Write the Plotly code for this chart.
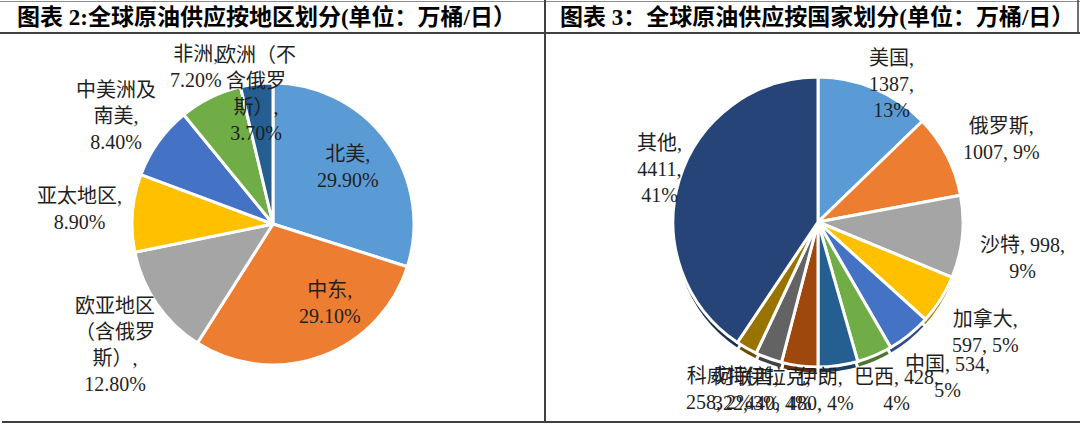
import math
import plotly.graph_objects as go

# ---------------- data ----------------
region_labels = ["北美", "中东", "欧亚地区（含俄罗斯）", "亚太地区", "中美洲及南美", "非洲", "欧洲（不含俄罗斯）"]
region_wrapped = ["北美", "中东", "欧亚地区<br>（含俄罗<br>斯）", "亚太地区", "中美洲及<br>南美", "非洲", "欧洲（不<br>含俄罗<br>斯）"]
region_values = [29.9, 29.1, 12.8, 8.9, 8.4, 7.2, 3.7]
region_colors = ["#5B9BD5", "#ED7D31", "#A5A5A5", "#FFC000", "#4472C4", "#70AD47", "#255E91"]

country_labels = ["美国", "俄罗斯", "沙特", "加拿大", "中国", "巴西", "伊朗", "伊拉克", "阿联酋", "科威特", "其他"]
country_values = [1387, 1007, 998, 597, 534, 428, 480, 440, 322, 258, 4411]
country_colors = ["#5B9BD5", "#ED7D31", "#A5A5A5", "#FFC000", "#4472C4", "#70AD47",
                  "#255E91", "#9E480E", "#636363", "#997300", "#264478"]

title_left = "图表 2:全球原油供应按地区划分(单位：万桶/日）"
title_right = "图表 3：全球原油供应按国家划分(单位：万桶/日）"

# ---------------- layout / style ----------------
W, H = 1080, 425
FONT = "Liberation Serif, Noto Sans CJK SC, serif"
TITLE_FONT = "Liberation Serif, Noto Sans CJK SC, serif"
LABEL_COLOR = "#1f1f1f"

L_C, L_R = (273, 224), 141        # left pie centre / radius (px)
R_C, R_R = (818, 222), 145        # right pie centre / radius (px)
DEPTH = 7                         # 3-D side thickness of the right pie (px)

# label placement: (radius factor, angle offset in degrees) per slice
region_lab_pos = [(0.67, -1), (0.69, -16), (1.41, -3), (1.38, 0), (1.35, -1), (1.24, 0), (0.93, -1)]
country_lab_pos = [(1.08, 5), (1.39, 3), (1.43, 4), (1.38, 1), (1.39, -1), (1.28, -2),
                   (1.16, 7), (1.19, 6), (1.26, 3), (1.34, 1), (1.15, 1.6)]
country_two_line_name = {"美国", "其他"}            # name / value / pct on three lines
country_name_first = {"俄罗斯", "加拿大", "伊朗", "伊拉克", "阿联酋", "科威特"}  # name / "value, pct"


def dom_x(cx, r):
    return [(cx - r) / W, (cx + r) / W]


def dom_y(cy, r):
    yb = H - cy
    return [(yb - r) / H, (yb + r) / H]


def darker(hexc, f=0.68):
    h = hexc.lstrip("#")
    r, g, b = (int(h[i:i + 2], 16) for i in (0, 2, 4))
    return "#%02x%02x%02x" % (int(r * f), int(g * f), int(b * f))


def mid_angles(values):
    tot = sum(values)
    out, cum = [], 0.0
    for v in values:
        out.append((cum + v / 2) / tot * 360.0)
        cum += v
    return out


def label_annots(texts, values, centre, radius, placement):
    anns = []
    for t, a, (f, off) in zip(texts, mid_angles(values), placement):
        th = math.radians(a + off)
        px = centre[0] + f * radius * math.sin(th)
        py = centre[1] - f * radius * math.cos(th)
        anns.append(dict(text=t, x=px / W, y=1 - py / H, xref="paper", yref="paper",
                         xanchor="center", yanchor="middle", align="center", showarrow=False,
                         font=dict(family=FONT, size=20, color=LABEL_COLOR)))
    return anns


# ---------------- texts ----------------
region_text = [f"{w},<br>{v:.2f}%" for w, v in zip(region_wrapped, region_values)]

total = sum(country_values)
country_text = []
for lab, v in zip(country_labels, country_values):
    p = round(v / total * 100)
    if lab in country_two_line_name:
        country_text.append(f"{lab},<br>{v},<br>{p}%")
    elif lab in country_name_first:
        country_text.append(f"{lab},<br>{v}, {p}%")
    else:
        country_text.append(f"{lab}, {v},<br>{p}%")

# ---------------- figure ----------------
fig = go.Figure()
fig.add_trace(go.Pie(
    labels=region_labels, values=region_values, sort=False, direction="clockwise",
    rotation=0, textinfo="none", automargin=False,
    marker=dict(colors=region_colors, line=dict(color="white", width=3)),
    domain=dict(x=dom_x(L_C[0], L_R), y=dom_y(L_C[1], L_R)),
    showlegend=False, hoverinfo="label+value",
))
# 3-D side of the right pie (darker copy shifted down)
fig.add_trace(go.Pie(
    labels=country_labels, values=country_values, sort=False, direction="clockwise",
    rotation=0, textinfo="none", automargin=False,
    marker=dict(colors=[darker(c) for c in country_colors], line=dict(color="white", width=3)),
    domain=dict(x=dom_x(R_C[0], R_R), y=dom_y(R_C[1] + DEPTH, R_R)),
    showlegend=False, hoverinfo="skip",
))
# white disc so the gaps of the top face stay white
fig.add_trace(go.Pie(
    labels=["_"], values=[1], sort=False, textinfo="none", automargin=False,
    marker=dict(colors=["white"], line=dict(color="white", width=0)),
    domain=dict(x=dom_x(R_C[0], R_R), y=dom_y(R_C[1], R_R)),
    showlegend=False, hoverinfo="skip",
))
fig.add_trace(go.Pie(
    labels=country_labels, values=country_values, sort=False, direction="clockwise",
    rotation=0, textinfo="none", automargin=False,
    marker=dict(colors=country_colors, line=dict(color="white", width=3)),
    domain=dict(x=dom_x(R_C[0], R_R), y=dom_y(R_C[1], R_R)),
    showlegend=False, hoverinfo="label+value",
))

line_dark = dict(color="#404040", width=2)
shapes = [
    dict(type="line", xref="paper", yref="paper", x0=0, x1=1, y0=(H - 1.5) / H, y1=(H - 1.5) / H,
         line=dict(color="#8c8c8c", width=1)),
    dict(type="line", xref="paper", yref="paper", x0=0, x1=1, y0=(H - 33) / H, y1=(H - 33) / H, line=line_dark),
    dict(type="line", xref="paper", yref="paper", x0=2 / W, x1=1, y0=(H - 422) / H, y1=(H - 422) / H, line=line_dark),
    dict(type="line", xref="paper", yref="paper", x0=545 / W, x1=545 / W, y0=(H - 422) / H, y1=1, line=line_dark),
    dict(type="line", xref="paper", yref="paper", x0=1078 / W, x1=1078 / W, y0=(H - 33) / H, y1=1,
         line=dict(color="#404040", width=1.5)),
]

annotations = [
    dict(text=f"<b>{title_left}</b>", x=15 / W, y=(H - 17) / H, xref="paper", yref="paper",
         xanchor="left", yanchor="middle", showarrow=False,
         font=dict(family=TITLE_FONT, size=23, color="#000000")),
    dict(text=f"<b>{title_right}</b>", x=558 / W, y=(H - 17) / H, xref="paper", yref="paper",
         xanchor="left", yanchor="middle", showarrow=False,
         font=dict(family=TITLE_FONT, size=23, color="#000000")),
]
annotations += label_annots(region_text, region_values, L_C, L_R, region_lab_pos)
annotations += label_annots(country_text, country_values, R_C, R_R, country_lab_pos)

fig.update_layout(
    width=W, height=H, margin=dict(l=0, r=0, t=0, b=0, autoexpand=False),
    paper_bgcolor="white", plot_bgcolor="white",
    shapes=shapes, annotations=annotations,
)
fig.write_html("out.html", config={"displayModeBar": False},
               post_script="document.body.style.margin='0';document.body.style.overflow='hidden';")
